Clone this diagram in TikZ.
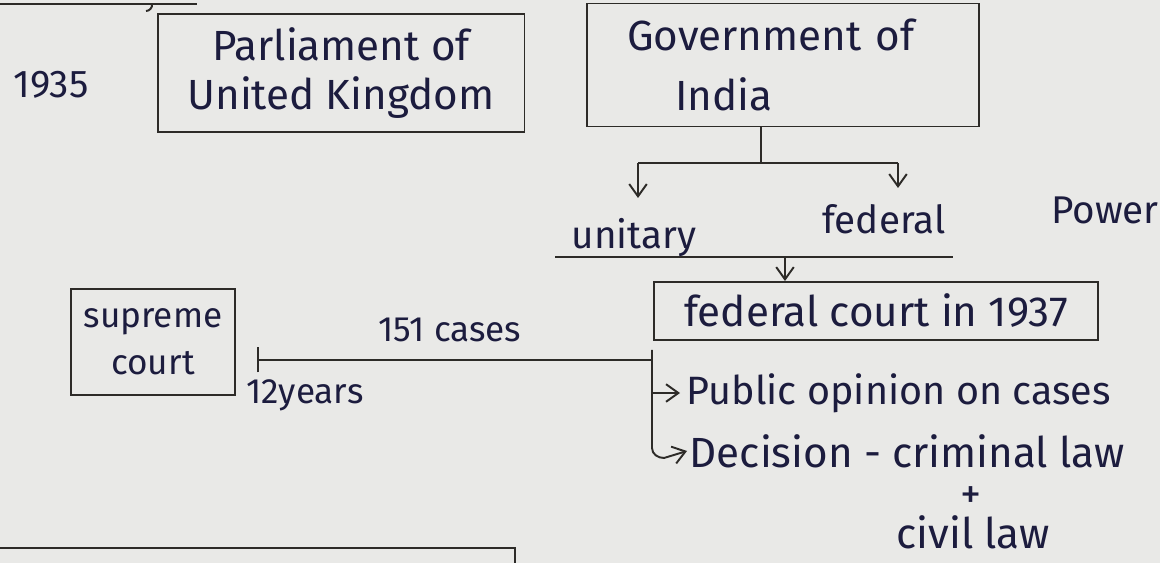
\documentclass[tikz,border=0pt]{standalone}
\usepackage{fontspec}
\setmainfont{Fira Sans}
\usetikzlibrary{arrows.meta}
\definecolor{paper}{RGB}{233,233,231}
\definecolor{ink}{RGB}{28,28,62}
\definecolor{pen}{RGB}{45,43,40}

\begin{document}
\begin{tikzpicture}[x=0.02cm,y=-0.02cm,
  every node/.style={text=ink,font=\fontsize{22}{28}\selectfont},
  big/.style={font=\fontsize{24}{28}\selectfont},
  box/.style={draw=pen,line width=1.1pt,inner sep=0pt,align=center},
  arr/.style={-{Straight Barb[length=7pt,width=10pt]}},
  line width=1.1pt, draw=pen]
  \fill[paper] (0,0) rectangle (1160,563);
  \useasboundingbox (0,0) rectangle (1160,563);
  % boxes
  \node[box,big,minimum width=7.34cm,minimum height=2.36cm] (parl) at (341,73) {Parliament of\\United Kingdom};
  \node[box,font=\fontsize{24}{34}\selectfont,minimum width=7.84cm,minimum height=2.46cm,
        align=left,inner xsep=0.8cm,text width=6.24cm] (gov) at (783,65) {Government of\\\hspace*{0.96cm}India};
  \node[box,big,minimum width=8.88cm,minimum height=1.16cm] (fed) at (876,311) {federal court in 1937};
  \node[box,font=\fontsize{20}{27}\selectfont,minimum width=3.28cm,minimum height=2.12cm] (sup) at (153,342) {supreme\\court};
  % plain labels
  \node (year) at (51,85) {1935};
  \node (unit) at (634,238) {unitary};
  \node (feder) at (884,219) {federal};
  \node (power) at (1105,210) {Power};
  \node[font=\fontsize{20}{28}\selectfont] (cases) at (450,330) {151 cases};
  \node[font=\fontsize{20}{28}\selectfont] (years) at (305,395) {12years};
  \node[font=\fontsize{22.5}{28}\selectfont,anchor=west] (pub) at (680,393) {Public opinion on cases};
  \node[big,anchor=west,inner sep=1pt] (dec) at (687,451) {Decision - criminal law};
  \node[font=\fontsize{24}{24}\selectfont,inner sep=0pt] (plus) at (971,498) {+};
  \node[big,inner sep=1pt] (civil) at (973,532) {civil law};
  % branching under the government box
  \coordinate (split) at (761,163);
  \coordinate (brL) at (638,163);
  \coordinate (brR) at (898,163);
  \draw (split |- gov.south) -- (split);
  \draw (brL) -- (brR);
  \draw[arr] (brL) -- (638,198);
  \draw[arr] (brR) -- (898,188);
  \draw (555,257) -- (953,257);
  \coordinate (drop) at (785,257);
  \draw[arr] (drop) -- (drop |- fed.north);
  % link to supreme court and points
  \coordinate (tick) at (257,360);
  \coordinate (join) at (652,360);
  \draw[{Bar[width=0.5cm]}-] (tick) -- (join);
  \draw (652,350) -- (652,448) to[out=-90,in=180] (664,458);
  \draw[arr] (664,458) -- (dec.west);
  \draw[arr] (652,393) -- (pub.west);
  % edges of the neighbouring notes
  \draw (0,4) -- (197,4);
  \draw (152,4) to[out=-80,in=0] (146,11);
  \draw (0,548) -- (515,548) -- (515,563);
\end{tikzpicture}
\end{document}
